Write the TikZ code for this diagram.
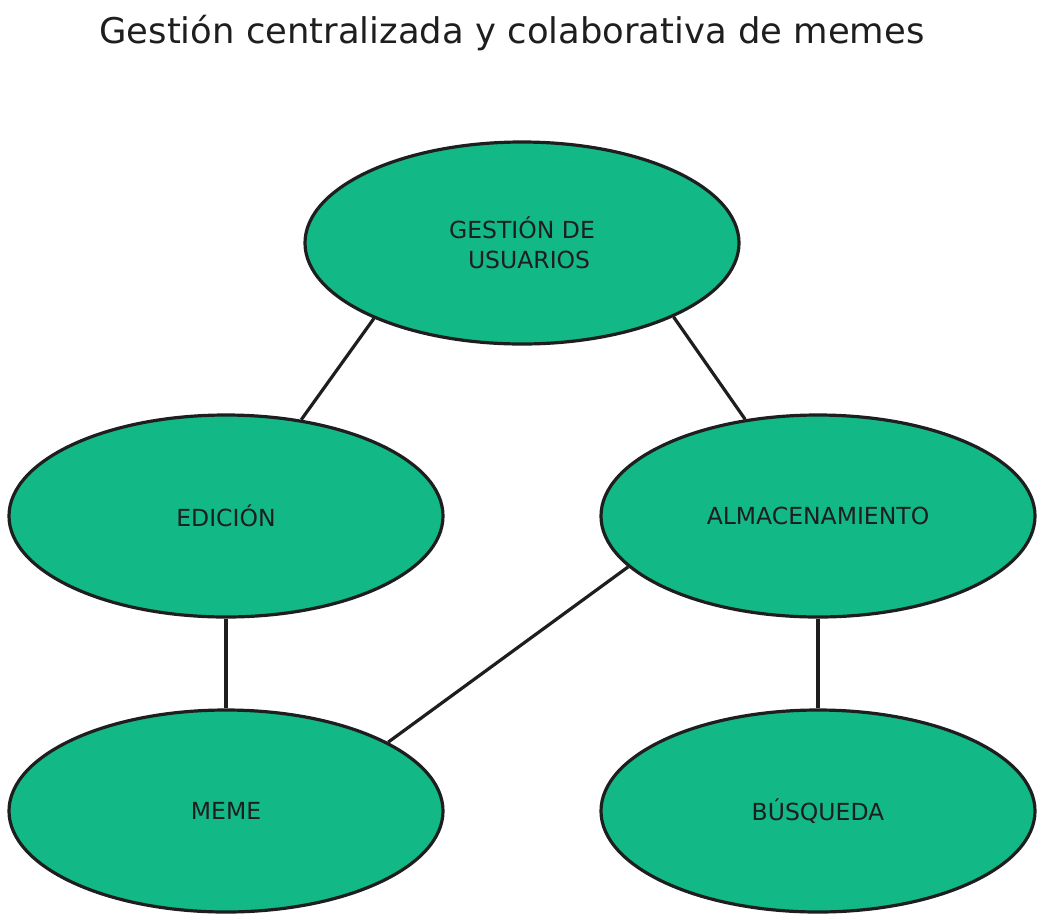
\documentclass[tikz,border=0pt]{standalone}
\usepackage{fontspec}
\setmainfont{DejaVu Sans}
\usetikzlibrary{shapes.geometric}
\definecolor{fillg}{HTML}{12B886}
\definecolor{ink}{HTML}{1E1E1E}
\begin{document}
\begin{tikzpicture}[x=1pt,y=-1pt,
  bubble/.style={ellipse,draw=ink,fill=fillg,line width=3.2pt,minimum width=434pt,minimum height=202pt,inner sep=0pt,text=ink,font=\fontsize{23.5}{30}\selectfont,align=center},
  link/.style={draw=ink,line width=3.2pt}]
\useasboundingbox (0,0) rectangle (1044,922);
\node[text=ink,font=\fontsize{35.4}{42}\selectfont] (title) at (512,33) {Gestión centralizada y colaborativa de memes};
\node[bubble] (usr) at (522,243) {GESTIÓN DE\\\hspace*{0.6em}USUARIOS};
\node[bubble] (edi) at (226,516) {EDICIÓN};
\node[bubble] (alm) at (818,516) {ALMACENAMIENTO};
\node[bubble] (mem) at (226,811) {MEME};
\node[bubble] (bus) at (818,811) {BÚSQUEDA};
\draw[link] (usr.-153.7) -- (edi.52.4);
\draw[link] (usr.-26) -- (alm.127.6);
\draw[link] (alm.-165.3) -- (mem.23.6);
\draw[link] (edi.south) -- (mem.north);
\draw[link] (alm.south) -- (bus.north);
\end{tikzpicture}
\end{document}
